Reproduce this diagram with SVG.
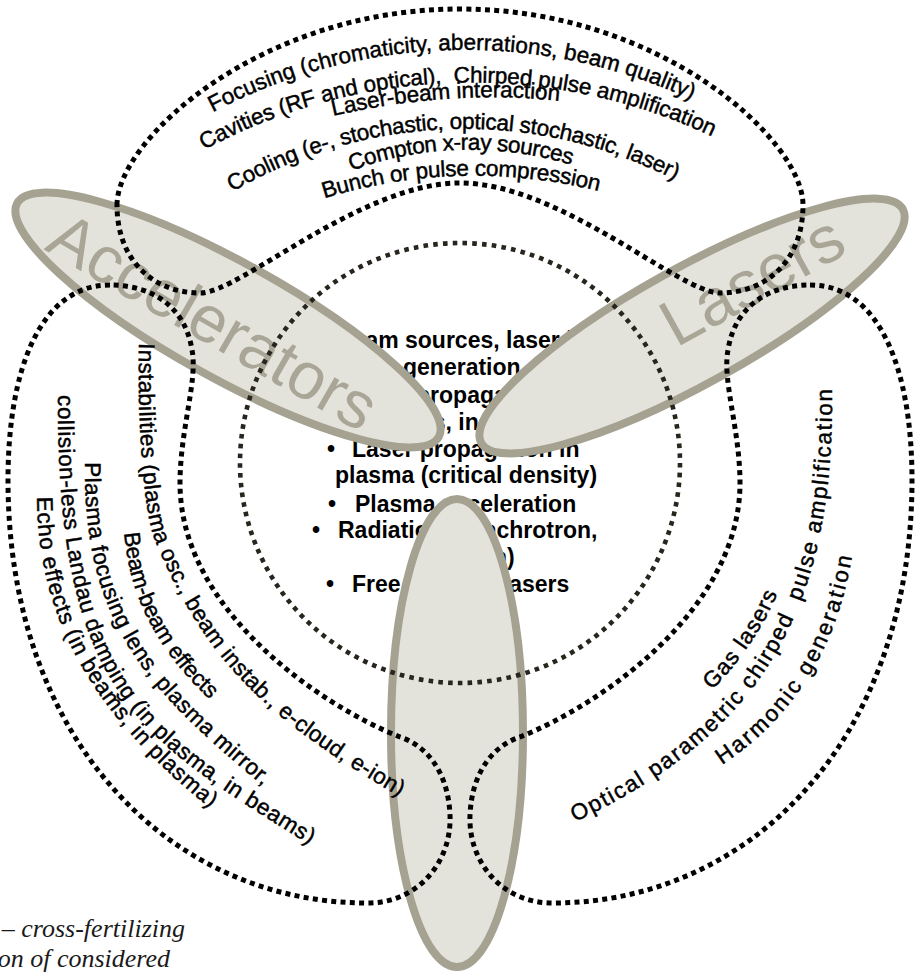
<svg xmlns="http://www.w3.org/2000/svg" width="917" height="974" viewBox="0 0 917 974">
<style>
.dot{fill:none;stroke:#000;stroke-width:5;stroke-dasharray:5 4.3}
.circ{fill:none;stroke:#27251d;stroke-width:4.6;stroke-dasharray:4.6 5.2}
.petal{fill:#e4e3db;stroke:#a6a292;stroke-width:8}
.lbl{font-family:"Liberation Sans",Arial,sans-serif;font-size:66px;fill:#a9a597}
.ctr{font-family:"Liberation Sans",Arial,sans-serif;font-size:23px;font-weight:bold;fill:#000}
.arc{font-family:"Liberation Sans",Arial,sans-serif;font-size:22.5px;fill:#000;stroke:#000;stroke-width:0.45}
.cap{font-family:"Liberation Serif","Times New Roman",serif;font-style:italic;font-size:26px;fill:#1a1a1a}
</style>
<defs>
<path id="t1" d="M142.8,147.6 A540,540 0 0 1 762.2,147.6"/>
<path id="t2" d="M133.1,185.2 A565.5,565.5 0 0 1 781.9,185.2"/>
<path id="t3" d="M333,116 Q450,89 560,101 L600,105.4"/>
<path id="t4" d="M188.7,212 A459,459 0 0 1 715.3,212"/>
<path id="t5" d="M314.2,182.3 A345,345 0 0 1 605.8,182.3"/>
<path id="t6" d="M286.1,206.6 A507,507 0 0 1 632.9,206.6"/>
<path id="l1" d="M139,343 C137,430 144,512 155,540 C207,670 280,726 400,797 L440,821"/>
<path id="l2" d="M124,533 C130,600 160,655 214,703 L240,725"/>
<path id="l3" d="M85,462 C83,625 148,690 262,785 L290,808"/>
<path id="l4" d="M58,395 C56,695 140,739 310,845 L340,864"/>
<path id="l5" d="M37,497 C37,632 108.6,727.4 210,808 L240,830"/>
<path id="r1" d="M712,690 C735,668 764,628 778,592 L790,560"/>
<path id="r2" d="M575,822 C770,730 835,600 832,387 L832,350"/>
<path id="r3" d="M722,765 C797,715 837,645 852,557 L856,520"/>
</defs>

<g id="center-text">
<text class="ctr" x="298" y="348" text-anchor="middle">•</text>
<text class="ctr" x="336" y="348">Beam sources, laser beam</text>
<text class="ctr" x="403" y="375">generation</text>
<text class="ctr" x="329" y="403" text-anchor="middle">•</text>
<text class="ctr" x="347" y="403">Beam propagation,</text>
<text class="ctr" x="333" y="430">structures, instabilities</text>
<text class="ctr" x="331" y="457" text-anchor="middle">•</text>
<text class="ctr" x="352" y="457">Laser propagation in</text>
<text class="ctr" x="335" y="483">plasma (critical density)</text>
<text class="ctr" x="332" y="512" text-anchor="middle">•</text>
<text class="ctr" x="355" y="512">Plasma acceleration</text>
<text class="ctr" x="316" y="538" text-anchor="middle">•</text>
<text class="ctr" x="338" y="538">Radiation (synchrotron,</text>
<text class="ctr" x="415" y="565">betatron)</text>
<text class="ctr" x="330" y="592" text-anchor="middle">•</text>
<text class="ctr" x="352" y="592">Free electron lasers</text>
</g>

<g id="petal-accelerators">
<ellipse class="petal" cx="228" cy="320" rx="241" ry="58" transform="rotate(29 228 320)"/>
<text class="lbl" transform="translate(202,341) rotate(30)" text-anchor="middle">Accelerators</text>
</g>
<g id="petal-lasers">
<ellipse class="petal" cx="692" cy="326" rx="241" ry="58" transform="rotate(-29 692 326)"/>
<text class="lbl" transform="translate(763,300) rotate(-29)" text-anchor="middle">Lasers</text>
</g>
<g id="petal-bottom">
<ellipse class="petal" cx="457" cy="733" rx="66" ry="234"/>
</g>

<g id="lobe-top">
<g transform="rotate(-1.5 455 120)">
<text class="arc" text-anchor="middle"><textPath href="#t1" startOffset="50%" textLength="496">Focusing (chromaticity, aberrations, beam quality)</textPath></text>
<text class="arc" text-anchor="middle" xml:space="preserve"><textPath href="#t2" startOffset="50%" textLength="527">Cavities (RF and optical),  Chirped pulse amplification</textPath></text>
<text class="arc" text-anchor="middle"><textPath href="#t4" startOffset="50%" textLength="462">Cooling (e-, stochastic, optical stochastic, laser)</textPath></text>
<text class="arc" text-anchor="middle"><textPath href="#t5" startOffset="50%" textLength="224">Compton x-ray sources</textPath></text>
<text class="arc" text-anchor="middle"><textPath href="#t6" startOffset="50%" textLength="278">Bunch or pulse compression</textPath></text>
</g>
<text class="arc"><textPath href="#t3" textLength="228">Laser-beam interaction</textPath></text>
</g>

<g id="lobe-left">
<text class="arc"><textPath href="#l1" textLength="561">Instabilities (plasma osc., beam instab., e-cloud, e-ion)</textPath></text>
<text class="arc"><textPath href="#l2" textLength="192">Beam-beam effects</textPath></text>
<text class="arc"><textPath href="#l3" textLength="387">Plasma focusing lens, plasma mirror,</textPath></text>
<text class="arc"><textPath href="#l4" textLength="554">collision-less Landau damping (in plasma, in beams)</textPath></text>
<text class="arc"><textPath href="#l5" textLength="370">Echo effects (in beams, in plasma)</textPath></text>
</g>

<g id="lobe-right">
<text class="arc"><textPath href="#r1" textLength="117">Gas lasers</textPath></text>
<text class="arc" xml:space="preserve"><textPath href="#r2" textLength="540">Optical parametric chirped  pulse amplification</textPath></text>
<text class="arc"><textPath href="#r3" textLength="253">Harmonic generation</textPath></text>
</g>

<g id="connectors">
<circle class="circ" cx="460" cy="463" r="220"/>
<path class="dot" d="M117,205 C117,140 260,9 460,9 C660,9 803,140 803,205 C803,262 765,293 720,293 C680,293 560,183 460,183 C360,183 240,293 200,293 C155,293 117,262 117,205 Z"/>
<path class="dot" d="M110,285 C40,285 8,370 8,480 C8,740 170,903 367,903 C420,903 452,860 450,815 C448,770 425,745 400,737 C320,705 180,610 180,483 C180,430 198,380 192,350 C185,305 150,285 110,285 Z"/>
<path class="dot" transform="translate(920,0) scale(-1,1)" d="M110,285 C40,285 8,370 8,480 C8,740 170,903 367,903 C420,903 452,860 450,815 C448,770 425,745 400,737 C320,705 180,610 180,483 C180,430 198,380 192,350 C185,305 150,285 110,285 Z"/>
</g>

<g id="caption">
<text class="cap" x="185" y="937" text-anchor="end">– cross-fertilizing</text>
<text class="cap" x="170" y="967" text-anchor="end">on of considered</text>
</g>
</svg>
